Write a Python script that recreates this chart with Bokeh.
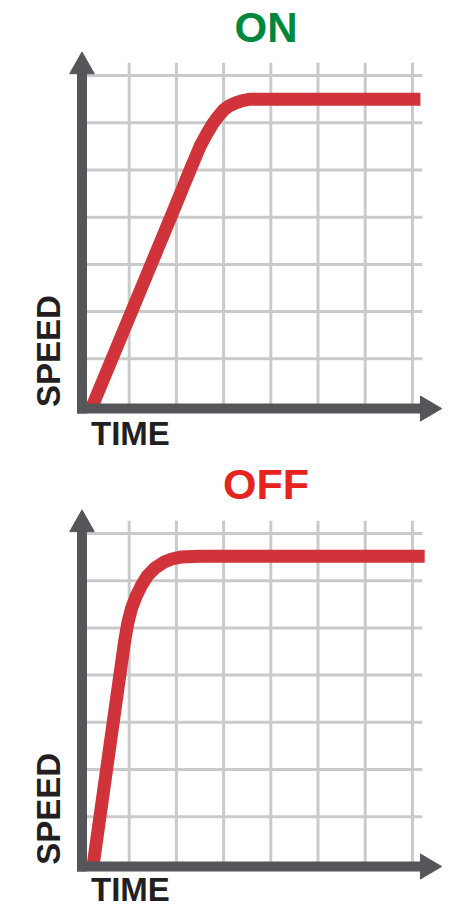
from bokeh.plotting import figure
from bokeh.layouts import column
from bokeh.models import Range1d
from bokeh.core.properties import value
from bokeh.embed import file_html
from bokeh.resources import INLINE

# ---------------- data ----------------
GRID_TICKS = [1, 2, 3, 4, 5, 6, 7]

on_time = [0.22, 1.88, 2.29, 2.5, 2.64, 2.77, 2.88, 3.0, 3.12, 3.25, 3.4, 3.57, 7.17]
on_speed = [0.0, 4.0, 5.0, 5.5, 5.76, 5.98, 6.13, 6.27, 6.36, 6.42, 6.47, 6.5, 6.5]

off_time = [0.24, 0.9, 0.97, 1.05, 1.15, 1.26, 1.39, 1.55, 1.73, 1.9, 2.09, 2.51, 7.26]
off_speed = [0.0, 4.7, 5.1, 5.42, 5.68, 5.9, 6.11, 6.27, 6.39, 6.46, 6.5, 6.52, 6.52]

titles = ["ON", "OFF"]
x_label = "TIME"
y_label = "SPEED"

# ---------------- style ----------------
AXIS_COLOR = "#555659"
GRID_COLOR = "#cacaca"
LINE_COLOR = "#d0343a"
TEXT_COLOR = "#231f20"
FONT = "Liberation Sans"
W = 458
X0, X1 = -1.7267, 7.9767


def panel(title, title_color, title_size, xs, ys, height, y0, y1, title_y, time_y):
    p = figure(width=W, height=height, output_backend="svg", toolbar_location=None,
               x_axis_type=None, y_axis_type=None, min_border=0,
               x_range=Range1d(X0, X1), y_range=Range1d(y0, y1))
    p.outline_line_color = None
    p.background_fill_color = "white"
    p.border_fill_color = "white"

    # grid
    grid_top = 7.27
    grid_right = 7.21
    n = len(GRID_TICKS)
    p.segment(x0=GRID_TICKS, y0=[0] * n, x1=GRID_TICKS, y1=[grid_top] * n,
              line_color=GRID_COLOR, line_width=3)
    p.segment(x0=[0] * n, y0=GRID_TICKS, x1=[grid_right] * n, y1=GRID_TICKS,
              line_color=GRID_COLOR, line_width=3)

    # curve
    p.line(xs, ys, line_color=LINE_COLOR, line_width=13, line_join="round", line_cap="butt")

    # axes with arrowheads
    ax_y = -0.055
    p.segment(x0=[0], y0=[-0.159], x1=[0], y1=[7.06], line_color=AXIS_COLOR, line_width=10)
    p.segment(x0=[-0.106], y0=[ax_y], x1=[7.19], y1=[ax_y], line_color=AXIS_COLOR, line_width=10)
    p.patch(x=[-0.26, 0.26, 0.0], y=[7.04, 7.04, 7.5], fill_color=AXIS_COLOR, line_color=AXIS_COLOR)
    p.patch(x=[7.17, 7.17, 7.62], y=[ax_y - 0.265, ax_y + 0.265, ax_y],
            fill_color=AXIS_COLOR, line_color=AXIS_COLOR)

    # texts
    p.text(x=[3.9], y=[title_y], text=[title], text_font=value(FONT), text_font_style="bold",
           text_font_size=title_size, text_color=title_color, text_align="center",
           text_baseline="alphabetic")
    p.text(x=[0.19], y=[time_y], text=[x_label], text_font=value(FONT), text_font_style="bold",
           text_font_size="33px", text_color=TEXT_COLOR, text_align="left",
           text_baseline="alphabetic")
    p.text(x=[-0.709], y=[-0.02], text=[y_label], text_font=value(FONT), text_font_style="bold",
           text_font_size="33px", text_color=TEXT_COLOR, text_align="left",
           text_baseline="alphabetic", angle=1.5708)
    return p


p1 = panel(titles[0], "#00873e", "42px", on_time, on_speed, 458, -1.1123, 8.5911, 8.026, -0.593)
p2 = panel(titles[1], "#e6231e", "43px", off_time, off_speed, 451, -0.9661, 8.589, 8.058, -0.546)

layout = column(p1, p2, spacing=0)
open("out.html", "w").write(file_html(layout, INLINE))
